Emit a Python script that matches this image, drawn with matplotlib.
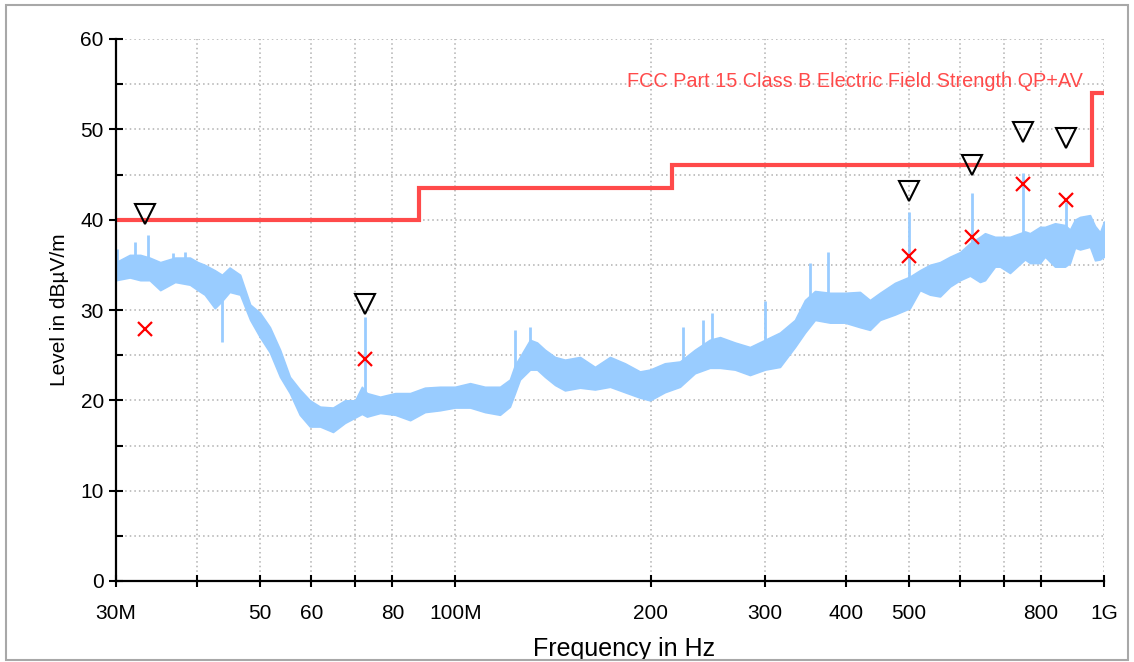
import numpy as np
import matplotlib
matplotlib.use("Agg")
import matplotlib.pyplot as plt
from matplotlib.patches import Rectangle
from matplotlib.ticker import FixedLocator, NullFormatter, NullLocator

plt.rcParams['font.family'] = ['Liberation Sans', 'DejaVu Sans']

# ---------------- data ----------------
# measured noise floor envelope (MHz, dBuV/m)
trace_freq = [30.0, 31.5, 32.7, 33.8, 35.1, 37.0, 39.0, 40.1, 41.1, 42.6, 43.7, 44.9,
              46.6, 48.3, 50.0, 51.8, 53.7, 55.6, 57.6, 59.7, 61.9, 64.8, 67.6, 70.1,
              71.8, 73.1, 76.6, 80.8, 85.2, 89.8, 94.7, 99.9, 105.4, 111.1, 117.2,
              121.4, 123.6, 125.8, 130.4, 133.7, 137.5, 142.5, 147.6, 155.7, 164.2,
              173.2, 182.6, 192.6, 199.6, 210.4, 222.0, 234.1, 246.8, 255.9, 269.9,
              284.6, 300.2, 316.6, 333.9, 346.0, 358.5, 378.1, 398.7, 420.5, 435.7,
              451.5, 476.1, 502.1, 520.3, 539.0, 558.7, 578.9, 599.8, 621.5, 643.9,
              655.4, 679.1, 691.3, 716.2, 755.4, 768.9, 796.7, 811.0, 840.3, 870.7,
              886.2, 902.2, 918.3, 951.5, 968.6, 986.0, 1000.0]
trace_low = [33.3, 33.6, 33.3, 33.3, 32.2, 33.1, 32.8, 32.2, 31.7, 30.2, 31.0, 32.0,
             31.7, 28.9, 27.0, 25.3, 22.6, 20.8, 18.4, 17.1, 17.1, 16.5, 17.5, 18.1,
             18.5, 18.2, 18.6, 18.4, 17.8, 18.7, 18.9, 19.2, 19.2, 18.7, 18.4,
             19.3, 20.8, 22.3, 23.4, 23.4, 22.6, 21.7, 21.1, 21.4, 21.2,
             21.5, 20.9, 20.3, 20.0, 20.9, 21.5, 23.0, 23.6, 23.6, 23.4,
             22.8, 23.4, 23.7, 25.9, 27.5, 28.9, 28.6, 28.6, 28.1, 27.8,
             28.9, 29.5, 30.2, 32.2, 31.7, 31.5, 32.6, 33.3, 33.8, 33.1,
             33.3, 34.8, 34.8, 34.1, 35.6, 35.2, 35.2, 35.9, 34.8, 34.8,
             35.2, 36.9, 36.7, 37.0, 35.5, 35.6, 35.9]
trace_high = [35.3, 36.1, 36.1, 35.8, 35.3, 35.8, 35.8, 35.3, 35.0, 34.4, 33.9, 34.7,
              33.9, 30.6, 29.7, 28.1, 25.6, 22.6, 21.2, 20.0, 19.3, 19.2, 20.0, 20.0,
              21.5, 20.8, 20.4, 20.8, 20.8, 21.4, 21.5, 21.5, 21.9, 21.5, 21.5,
              22.3, 23.9, 24.8, 26.7, 26.4, 25.6, 24.8, 24.5, 24.8, 23.7,
              24.8, 24.1, 23.2, 23.4, 24.1, 24.3, 25.6, 26.7, 27.0, 26.4,
              25.9, 26.7, 27.5, 28.9, 31.1, 32.1, 31.9, 31.9, 32.0, 31.1,
              31.9, 33.0, 33.7, 34.4, 35.0, 35.3, 35.9, 36.4, 37.4, 38.1,
              38.5, 38.1, 38.1, 38.1, 38.7, 38.5, 39.2, 39.2, 39.6, 39.4,
              38.9, 40.0, 40.3, 40.5, 39.3, 38.6, 39.8]

# narrow spikes in the trace (MHz, base dB, top dB)
spike_freq = [30.1, 32.1, 33.6, 36.7, 38.3, 43.7, 72.7, 123.6, 130.4, 224.4, 240.8,
              248.6, 300.0, 352.0, 375.0, 500.0, 627.0, 750.0, 875.0]
spike_base = [35.0, 35.5, 35.5, 35.5, 35.5, 26.5, 20.5, 23.5, 26.0, 24.0, 25.5,
              26.5, 26.5, 30.5, 31.5, 33.5, 37.0, 38.5, 39.0]
spike_top = [36.7, 37.5, 38.3, 36.3, 36.4, 32.0, 29.2, 27.8, 28.1, 28.1, 28.9,
             29.7, 31.0, 35.2, 36.4, 40.9, 43.0, 45.2, 42.0]

# limit line FCC Part 15 Class B (MHz, dBuV/m)
limit_freq = [30, 88, 88, 216, 216, 960, 960, 1000]
limit_level = [40.0, 40.0, 43.5, 43.5, 46.0, 46.0, 54.0, 54.0]
limit_label = "FCC Part 15 Class B Electric Field Strength QP+AV"

# final measurement markers
peak_freq = [33.3, 72.7, 500.0, 627.0, 750.0, 875.0]
peak_level = [40.6, 30.7, 43.2, 46.1, 49.7, 49.0]
qp_freq = [33.3, 72.7, 500.0, 627.0, 750.0, 875.0]
qp_level = [27.9, 24.6, 36.0, 38.1, 44.0, 42.2]

xtick_vals = [30, 40, 50, 60, 70, 80, 100, 200, 300, 400, 500, 600, 700, 800, 1000]
xtick_labels = ["30M", "", "50", "60", "", "80", "100M", "200", "300", "400", "500",
                "", "", "800", "1G"]
ytick_vals = [0, 10, 20, 30, 40, 50, 60]
yminor_vals = [5, 15, 25, 35, 45, 55]

# ---------------- figure ----------------
W, H = 1134, 662
fig = plt.figure(figsize=(W / 100, H / 100), dpi=100)
ax = fig.add_axes([116 / W, 1 - 581 / H, (1104 - 116) / W, (581 - 39) / H])

ax.set_xscale('log')
ax.set_xlim(30, 1000)
ax.set_ylim(0, 60)

# grid
grid_kw = dict(color='#b0b0b0', linestyle=(0, (1, 2)), linewidth=1.1, zorder=0)
for v in xtick_vals:
    ax.axvline(v, **grid_kw)
for v in ytick_vals + yminor_vals:
    ax.axhline(v, **grid_kw)

# trace
trace_color = '#99CCFF'
ax.fill_between(trace_freq, trace_low, trace_high, color=trace_color, linewidth=1.2,
                edgecolor=trace_color, zorder=2)
ax.vlines(spike_freq, spike_base, spike_top, color=trace_color, linewidth=2, zorder=2)

# limit
ax.plot(limit_freq, limit_level, color='#FF4A4A', linewidth=3, zorder=3,
        solid_joinstyle='miter')
ax.text(184, 55.3, limit_label, color='#FF4A4A', fontsize=14.3, ha='left',
        va='center', zorder=4)

# markers
ax.plot(peak_freq, peak_level, linestyle='none', marker='v', markersize=15,
        markerfacecolor='none', markeredgecolor='black', markeredgewidth=1.5, zorder=5)
ax.plot(qp_freq, qp_level, linestyle='none', marker='x', markersize=10,
        markeredgecolor='#FF0000', markeredgewidth=1.6, zorder=5)

# axes styling
for s in ['top', 'right']:
    ax.spines[s].set_visible(False)
for s in ['left', 'bottom']:
    ax.spines[s].set_linewidth(1.6)
    ax.spines[s].set_color('black')
    ax.spines[s].set_zorder(6)

ax.xaxis.set_major_locator(FixedLocator(xtick_vals))
ax.set_xticklabels(xtick_labels)
ax.xaxis.set_minor_locator(NullLocator())
ax.xaxis.set_minor_formatter(NullFormatter())
ax.set_yticks(ytick_vals)
ax.set_yticks(yminor_vals, minor=True)

ax.tick_params(axis='x', which='major', direction='inout', length=9, width=1.5,
               labelsize=15, pad=12)
ax.tick_params(axis='y', which='major', direction='inout', length=9.5, width=1.5,
               labelsize=15, pad=4)
ax.tick_params(axis='y', which='minor', direction='in', length=5, width=1.5)

ax.set_ylabel("Level in dBµV/m", fontsize=15, labelpad=8)
ax.patch.set_alpha(0)

fig.text(624 / W, 1 - 637 / H, "Frequency in Hz", fontsize=18, ha='center',
         va='top', zorder=3)

# outer frame
fig.add_artist(Rectangle((0, 0), 1, 2.5 / H, transform=fig.transFigure,
                         facecolor='white', edgecolor='none', zorder=20))
fig.add_artist(Rectangle((6 / W, 2.5 / H), (1128 - 6) / W, (659 - 4) / H,
                         transform=fig.transFigure, facecolor='none',
                         edgecolor='#a8a8a8', linewidth=1.5, zorder=21))

fig.savefig("out.png", dpi=100, facecolor='white')
